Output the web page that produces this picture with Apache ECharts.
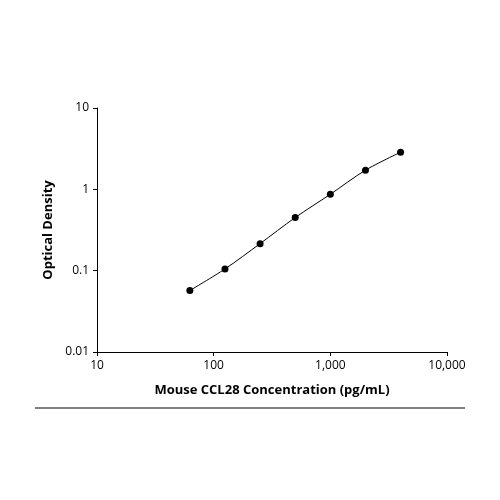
<!DOCTYPE html>
<html>
<head>
<meta charset="utf-8">
<script src="https://cdn.jsdelivr.net/npm/echarts@6/dist/echarts.min.js"></script>
<style>html,body{margin:0;background:#fff}#chart{width:500px;height:500px}</style>
</head>
<body>
<div id="chart"></div>
<script>
let concentration = [62.5, 125, 250, 500, 1000, 2000, 4000];
let density = [0.057, 0.105, 0.215, 0.45, 0.87, 1.72, 2.86];
let chart = echarts.init(document.getElementById('chart'));
let points = concentration.map((c, i) => [c, density[i]]);
let axisCommon = {
    type: 'log',
    logBase: 10,
    splitLine: { show: false },
    minorTick: { show: false },
    axisLine: { lineStyle: { color: '#000', width: 1 } },
    axisTick: { lineStyle: { color: '#000' }, length: 4 },
    axisLabel: { color: '#000', fontSize: 12, fontFamily: 'Open Sans' },
    nameTextStyle: { color: '#000', fontSize: 13, fontWeight: 'bold', fontFamily: 'Open Sans' },
    nameLocation: 'middle'
};
chart.setOption({
    animation: false,
    grid: { left: 97, right: 53, top: 108, bottom: 148 },
    xAxis: Object.assign({}, axisCommon, {
        min: 10, max: 10000,
        name: 'Mouse CCL28 Concentration (pg/mL)',
        nameGap: 32
    }),
    yAxis: Object.assign({}, axisCommon, {
        min: 0.01, max: 10,
        name: 'Optical Density',
        nameGap: 42,
        axisLabel: { color: '#000', fontSize: 12, fontFamily: 'Open Sans', formatter: v => String(+v.toPrecision(3)) }
    }),
    graphic: [{
        type: 'line',
        shape: { x1: 35, y1: 408, x2: 465, y2: 408 },
        style: { stroke: '#000', lineWidth: 1 }
    }],
    series: [{
        type: 'line',
        data: points,
        smooth: 0.3,
        symbol: 'circle',
        symbolSize: 7,
        itemStyle: { color: '#000' },
        lineStyle: { color: '#000', width: 1 }
    }]
});
</script>
</body>
</html>
